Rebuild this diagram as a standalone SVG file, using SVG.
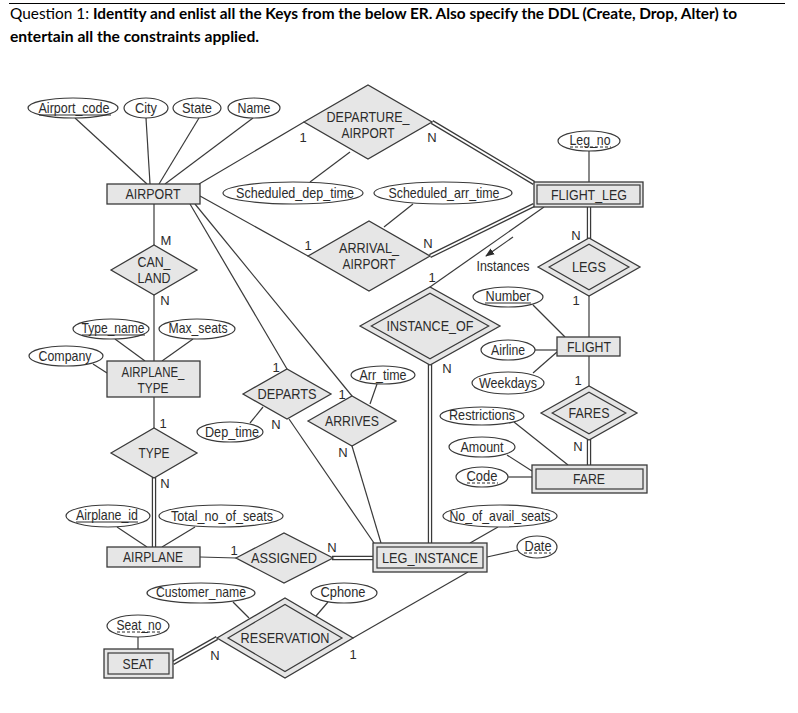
<svg xmlns="http://www.w3.org/2000/svg" width="798" height="713" viewBox="0 0 798 713">
<defs>
<style>
.ent{fill:#e6e6e6;stroke:#3a3a3a;stroke-width:1.3}
.in{fill:none;stroke:#3a3a3a;stroke-width:1.2}
.rel{fill:#e6e6e6;stroke:#3a3a3a;stroke-width:1.3}
.att{fill:#fff;stroke:#3a3a3a;stroke-width:1.2}
.ln{stroke:#3a3a3a;stroke-width:1.2;fill:none}
.d1{stroke:#3a3a3a;stroke-width:4.4;fill:none}
.d2{stroke:#fff;stroke-width:1.9;fill:none}
.t{font-family:"Liberation Sans",Arial,sans-serif;font-size:15px;fill:#2b2b2b;text-anchor:middle}
.t2{font-family:"Liberation Sans",Arial,sans-serif;font-size:14px;fill:#2b2b2b;text-anchor:middle}
.a{font-family:"Liberation Sans",Arial,sans-serif;font-size:14.5px;fill:#2b2b2b;text-anchor:middle}
.c{font-family:"Liberation Sans",Arial,sans-serif;font-size:13px;fill:#2b2b2b;text-anchor:middle}
.ul{stroke:#2b2b2b;stroke-width:1}
.dul{stroke:#2b2b2b;stroke-width:1;stroke-dasharray:3,2}
.h{font-family:"Lato","Open Sans",sans-serif;font-size:15px;fill:#000}
</style>
<marker id="arr" viewBox="0 0 10 10" refX="9" refY="5" markerWidth="9" markerHeight="9" orient="auto" markerUnits="userSpaceOnUse">
<path d="M0,1 L10,5 L0,9 z" fill="#2b2b2b"/>
</marker>
</defs>
<rect width="798" height="713" fill="#fff"/>

<g id="header">
<line x1="9" y1="3.5" x2="785" y2="3.5" stroke="#000" stroke-width="1"/>
<text class="h" x="10" y="19" textLength="727" lengthAdjust="spacingAndGlyphs">Question 1: <tspan font-weight="bold">Identity and enlist all the Keys from the below ER. Also specify the DDL (Create, Drop, Alter) to</tspan></text>
<text class="h" x="10" y="42" font-weight="bold" textLength="249" lengthAdjust="spacingAndGlyphs">entertain all the constraints applied.</text>
</g>

<g id="connectors">
<line class="ln" x1="75" y1="118" x2="147" y2="184"/>
<line class="ln" x1="146" y1="118" x2="150" y2="184"/>
<line class="ln" x1="199" y1="118" x2="159" y2="184"/>
<line class="ln" x1="253" y1="118" x2="165" y2="184"/>
<line class="ln" x1="199" y1="184" x2="304" y2="122"/>
<line class="ln" x1="200" y1="196" x2="308" y2="256"/>
<line class="ln" x1="190" y1="204" x2="287" y2="369"/>
<line class="ln" x1="195" y1="204" x2="352" y2="396"/>
<line class="ln" x1="154" y1="204" x2="154" y2="245"/>
<line class="ln" x1="154" y1="295" x2="154" y2="361"/>
<line class="ln" x1="350" y1="152" x2="310" y2="182"/>
<line class="ln" x1="384" y1="227" x2="413" y2="204"/>
<line class="ln" x1="430" y1="287" x2="544" y2="207"/>
<line class="ln" x1="513" y1="237" x2="486" y2="256" marker-end="url(#arr)"/>
<line class="ln" x1="589" y1="296" x2="589" y2="337"/>
<line class="ln" x1="533" y1="305" x2="565" y2="337"/>
<line class="ln" x1="535" y1="350" x2="557" y2="350"/>
<line class="ln" x1="533" y1="373" x2="557" y2="352"/>
<line class="ln" x1="589" y1="356" x2="589" y2="386"/>
<line class="ln" x1="514" y1="422" x2="568" y2="465"/>
<line class="ln" x1="507" y1="455" x2="532" y2="471"/>
<line class="ln" x1="508" y1="477" x2="532" y2="477"/>
<line class="ln" x1="498" y1="527" x2="470" y2="543"/>
<line class="ln" x1="518" y1="550" x2="487" y2="557"/>
<line class="ln" x1="468" y1="572" x2="353" y2="638"/>
<line class="ln" x1="289" y1="419" x2="374" y2="543"/>
<line class="ln" x1="352" y1="446" x2="381" y2="543"/>
<line class="ln" x1="263" y1="407" x2="250" y2="423"/>
<line class="ln" x1="370" y1="404" x2="377" y2="384"/>
<line class="ln" x1="115" y1="339" x2="145" y2="361"/>
<line class="ln" x1="193" y1="339" x2="162" y2="361"/>
<line class="ln" x1="93" y1="364" x2="107" y2="373"/>
<line class="ln" x1="154" y1="397" x2="154" y2="428"/>
<line class="ln" x1="117" y1="527" x2="147" y2="547"/>
<line class="ln" x1="195" y1="527" x2="162" y2="547"/>
<line class="ln" x1="200" y1="557" x2="236" y2="558"/>
<line class="ln" x1="233" y1="602" x2="249" y2="618"/>
<line class="ln" x1="328" y1="602" x2="316" y2="616"/>
<line class="ln" x1="138" y1="637" x2="138" y2="649"/>
<line class="ln" x1="589" y1="151" x2="589" y2="182"/>
<g>
<path class="d1" d="M432,122 L534,183 M430,256 L534,205 M589,207 L589,239 M589,439 L589,465 M430,364 L430,543 M154,477 L154,547 M332,558 L373,558 M173,663 L217,638"/>
<path class="d2" d="M432,122 L534,183 M430,256 L534,205 M589,207 L589,239 M589,439 L589,465 M430,364 L430,543 M154,477 L154,547 M332,558 L373,558 M173,663 L217,638"/>
</g>
</g>

<g id="cardinalities">
<text class="c" x="303" y="142">1</text>
<text class="c" x="432" y="142">N</text>
<text class="c" x="308" y="250">1</text>
<text class="c" x="428" y="248">N</text>
<text class="c" x="432" y="282">1</text>
<text class="c" x="576" y="240">N</text>
<text class="c" x="576" y="305">1</text>
<text class="c" x="578" y="385">1</text>
<text class="c" x="578" y="451">N</text>
<text class="c" x="447" y="373">N</text>
<text class="c" x="166" y="245">M</text>
<text class="c" x="165" y="305">N</text>
<text class="c" x="163" y="428">1</text>
<text class="c" x="165" y="488">N</text>
<text class="c" x="276" y="372">1</text>
<text class="c" x="276" y="429">N</text>
<text class="c" x="342" y="399">1</text>
<text class="c" x="343" y="457">N</text>
<text class="c" x="234" y="555">1</text>
<text class="c" x="332" y="552">N</text>
<text class="c" x="215" y="660">N</text>
<text class="c" x="353" y="659">1</text>
<text class="a" x="503" y="271" textLength="53" lengthAdjust="spacingAndGlyphs">Instances</text>
</g>

<g id="AIRPORT"><rect class="ent" x="107" y="184" width="93" height="20"/><text class="t" x="153" y="199" textLength="55" lengthAdjust="spacingAndGlyphs">AIRPORT</text></g>
<g id="FLIGHT_LEG"><rect class="ent" x="534" y="182" width="109" height="25"/><rect class="in" x="537" y="185" width="103" height="19"/><text class="t" x="589" y="200" textLength="76" lengthAdjust="spacingAndGlyphs">FLIGHT_LEG</text></g>
<g id="AIRPLANE_TYPE"><rect class="ent" x="107" y="361" width="93" height="36"/><text class="t2" x="153" y="377" textLength="63" lengthAdjust="spacingAndGlyphs">AIRPLANE_</text><text class="t2" x="153" y="393" textLength="31" lengthAdjust="spacingAndGlyphs">TYPE</text></g>
<g id="FLIGHT"><rect class="ent" x="557" y="337" width="63" height="19"/><text class="t" x="589" y="352" textLength="44" lengthAdjust="spacingAndGlyphs">FLIGHT</text></g>
<g id="FARE"><rect class="ent" x="532" y="465" width="115" height="28"/><rect class="in" x="536" y="469" width="107" height="20"/><text class="t" x="589" y="484" textLength="32" lengthAdjust="spacingAndGlyphs">FARE</text></g>
<g id="AIRPLANE"><rect class="ent" x="107" y="547" width="93" height="20"/><text class="t" x="153" y="562" textLength="60" lengthAdjust="spacingAndGlyphs">AIRPLANE</text></g>
<g id="LEG_INSTANCE"><rect class="ent" x="373" y="543" width="114" height="29"/><rect class="in" x="377" y="547" width="106" height="21"/><text class="t" x="430" y="563" textLength="96" lengthAdjust="spacingAndGlyphs">LEG_INSTANCE</text></g>
<g id="SEAT"><rect class="ent" x="104" y="649" width="69" height="29"/><rect class="in" x="108" y="653" width="61" height="21"/><text class="t" x="138" y="669" textLength="31" lengthAdjust="spacingAndGlyphs">SEAT</text></g>

<g id="DEPARTURE_AIRPORT"><polygon class="rel" points="304,122 368,85 432,122 368,159"/><text class="t2" x="368" y="122" textLength="83" lengthAdjust="spacingAndGlyphs">DEPARTURE_</text><text class="t2" x="368" y="138" textLength="53" lengthAdjust="spacingAndGlyphs">AIRPORT</text></g>
<g id="ARRIVAL_AIRPORT"><polygon class="rel" points="308,256 369,221 430,256 369,291"/><text class="t2" x="369" y="253" textLength="60" lengthAdjust="spacingAndGlyphs">ARRIVAL_</text><text class="t2" x="369" y="269" textLength="53" lengthAdjust="spacingAndGlyphs">AIRPORT</text></g>
<g id="CAN_LAND"><polygon class="rel" points="111,270 154,245 197,270 154,295"/><text class="t2" x="154" y="267" textLength="33" lengthAdjust="spacingAndGlyphs">CAN_</text><text class="t2" x="154" y="283" textLength="33" lengthAdjust="spacingAndGlyphs">LAND</text></g>
<g id="LEGS"><polygon class="rel" points="538,267 589,238 640,267 589,296"/><polygon class="in" points="549.1,267 589,244.3 628.9,267 589,289.7"/><text class="t" x="589" y="272" textLength="34" lengthAdjust="spacingAndGlyphs">LEGS</text></g>
<g id="INSTANCE_OF"><polygon class="rel" points="360,326 430,287 500,326 430,365"/><polygon class="in" points="371.3,326 430,293.3 488.7,326 430,358.7"/><text class="t" x="430" y="331" textLength="87" lengthAdjust="spacingAndGlyphs">INSTANCE_OF</text></g>
<g id="FARES"><polygon class="rel" points="541,413 589,386 637,413 589,440"/><polygon class="in" points="552.2,413 589,392.3 625.8,413 589,433.7"/><text class="t" x="589" y="418" textLength="41" lengthAdjust="spacingAndGlyphs">FARES</text></g>
<g id="DEPARTS"><polygon class="rel" points="243,394 287,369 331,394 287,419"/><text class="t" x="287" y="399" textLength="59" lengthAdjust="spacingAndGlyphs">DEPARTS</text></g>
<g id="ARRIVES"><polygon class="rel" points="308,421 352,396 396,421 352,446"/><text class="t" x="352" y="426" textLength="54" lengthAdjust="spacingAndGlyphs">ARRIVES</text></g>
<g id="TYPE"><polygon class="rel" points="111,453 154,428 197,453 154,478"/><text class="t" x="154" y="458" textLength="31" lengthAdjust="spacingAndGlyphs">TYPE</text></g>
<g id="ASSIGNED"><polygon class="rel" points="236,558 284,533 333,558 284,583"/><text class="t" x="284" y="563" textLength="66" lengthAdjust="spacingAndGlyphs">ASSIGNED</text></g>
<g id="RESERVATION"><polygon class="rel" points="217,638 285,598 353,638 285,678"/><polygon class="in" points="228,638 285,604.4 342,638 285,671.6"/><text class="t" x="285" y="643" textLength="89" lengthAdjust="spacingAndGlyphs">RESERVATION</text></g>

<g id="Airport_code"><ellipse class="att" cx="73" cy="108" rx="45" ry="10"/><text class="a" x="74" y="113" textLength="71" lengthAdjust="spacingAndGlyphs">Airport_code</text><line class="ul" x1="39" y1="115" x2="111" y2="115"/></g>
<g id="City"><ellipse class="att" cx="146" cy="108" rx="22" ry="10"/><text class="a" x="146" y="113" textLength="22" lengthAdjust="spacingAndGlyphs">City</text></g>
<g id="State"><ellipse class="att" cx="197" cy="108" rx="24" ry="10"/><text class="a" x="197" y="113" textLength="30" lengthAdjust="spacingAndGlyphs">State</text></g>
<g id="Name"><ellipse class="att" cx="254" cy="108" rx="26" ry="10"/><text class="a" x="254" y="113" textLength="33" lengthAdjust="spacingAndGlyphs">Name</text></g>
<g id="Scheduled_dep_time"><ellipse class="att" cx="293" cy="193" rx="70" ry="11"/><text class="a" x="295" y="198" textLength="118" lengthAdjust="spacingAndGlyphs">Scheduled_dep_time</text></g>
<g id="Scheduled_arr_time"><ellipse class="att" cx="443" cy="193" rx="69" ry="11"/><text class="a" x="444" y="198" textLength="111" lengthAdjust="spacingAndGlyphs">Scheduled_arr_time</text></g>
<g id="Leg_no"><ellipse class="att" cx="589" cy="141" rx="31" ry="10"/><text class="a" x="590" y="145" textLength="41" lengthAdjust="spacingAndGlyphs">Leg_no</text><line class="dul" x1="570" y1="147" x2="611" y2="147"/></g>
<g id="Type_name"><ellipse class="att" cx="111" cy="329" rx="38" ry="10"/><text class="a" x="113" y="333" textLength="63" lengthAdjust="spacingAndGlyphs">Type_name</text><line class="ul" x1="82" y1="335" x2="145" y2="335"/></g>
<g id="Max_seats"><ellipse class="att" cx="197" cy="329" rx="38" ry="10"/><text class="a" x="198" y="333" textLength="59" lengthAdjust="spacingAndGlyphs">Max_seats</text></g>
<g id="Company"><ellipse class="att" cx="66" cy="356" rx="37" ry="10"/><text class="a" x="65" y="361" textLength="53" lengthAdjust="spacingAndGlyphs">Company</text></g>
<g id="Number"><ellipse class="att" cx="508" cy="297" rx="35" ry="10"/><text class="a" x="508" y="301" textLength="45" lengthAdjust="spacingAndGlyphs">Number</text><line class="ul" x1="485" y1="303" x2="531" y2="303"/></g>
<g id="Airline"><ellipse class="att" cx="508" cy="350" rx="27" ry="10"/><text class="a" x="508" y="355" textLength="34" lengthAdjust="spacingAndGlyphs">Airline</text></g>
<g id="Weekdays"><ellipse class="att" cx="508" cy="383" rx="36" ry="11"/><text class="a" x="508" y="388" textLength="58" lengthAdjust="spacingAndGlyphs">Weekdays</text></g>
<g id="Arr_time"><ellipse class="att" cx="383" cy="375" rx="32" ry="9"/><text class="a" x="383" y="380" textLength="47" lengthAdjust="spacingAndGlyphs">Arr_time</text></g>
<g id="Dep_time"><ellipse class="att" cx="230" cy="432" rx="33" ry="10"/><text class="a" x="232" y="437" textLength="54" lengthAdjust="spacingAndGlyphs">Dep_time</text></g>
<g id="Restrictions"><ellipse class="att" cx="482" cy="416" rx="42" ry="9"/><text class="a" x="482" y="420" textLength="66" lengthAdjust="spacingAndGlyphs">Restrictions</text></g>
<g id="Amount"><ellipse class="att" cx="482" cy="447" rx="33" ry="10"/><text class="a" x="482" y="452" textLength="43" lengthAdjust="spacingAndGlyphs">Amount</text></g>
<g id="Code"><ellipse class="att" cx="482" cy="477" rx="26" ry="10"/><text class="a" x="482" y="481" textLength="31" lengthAdjust="spacingAndGlyphs">Code</text><line class="dul" x1="467" y1="483" x2="498" y2="483"/></g>
<g id="No_of_avail_seats"><ellipse class="att" cx="500" cy="516" rx="57" ry="11"/><text class="a" x="500" y="521" textLength="101" lengthAdjust="spacingAndGlyphs">No_of_avail_seats</text></g>
<g id="Date"><ellipse class="att" cx="537" cy="547" rx="20" ry="11"/><text class="a" x="538" y="551" textLength="27" lengthAdjust="spacingAndGlyphs">Date</text><line class="dul" x1="524" y1="553" x2="551" y2="553"/></g>
<g id="Airplane_id"><ellipse class="att" cx="108" cy="516" rx="42" ry="11"/><text class="a" x="107" y="520" textLength="62" lengthAdjust="spacingAndGlyphs">Airplane_id</text><line class="ul" x1="76" y1="522" x2="138" y2="522"/></g>
<g id="Total_no_of_seats"><ellipse class="att" cx="221" cy="516" rx="62" ry="11"/><text class="a" x="222" y="521" textLength="102" lengthAdjust="spacingAndGlyphs">Total_no_of_seats</text></g>
<g id="Customer_name"><ellipse class="att" cx="201" cy="593" rx="54" ry="10"/><text class="a" x="201" y="597" textLength="90" lengthAdjust="spacingAndGlyphs">Customer_name</text></g>
<g id="Cphone"><ellipse class="att" cx="344" cy="593" rx="33" ry="10"/><text class="a" x="343" y="597" textLength="45" lengthAdjust="spacingAndGlyphs">Cphone</text></g>
<g id="Seat_no"><ellipse class="att" cx="138" cy="626" rx="31" ry="11"/><text class="a" x="139" y="630" textLength="45" lengthAdjust="spacingAndGlyphs">Seat_no</text><line class="dul" x1="117" y1="632" x2="161" y2="632"/></g>
</svg>
